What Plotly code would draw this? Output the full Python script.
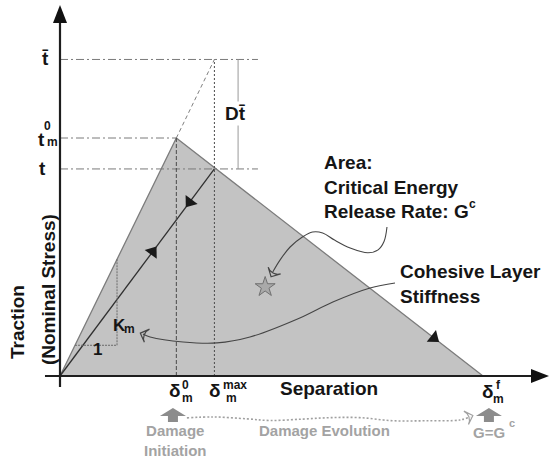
import math
import plotly.graph_objects as go

# ---- bilinear traction-separation law (normalised units) ----
separation_names = ["delta_m0", "delta_max", "delta_mf"]
separation_values = [0.275, 0.365, 1.0]
traction_names = ["t_m0", "t", "t_bar"]
traction_values = [1.0, 0.87, 1.33]

# run of the small "1 : K_m" slope triangle on the elastic branch
slope_run = [0.0355, 0.1348]

# guide curves for the call-out arrows
stiffness_curve_x = [0.792, 0.733, 0.645, 0.567, 0.449, 0.371, 0.291, 0.213, 0.196]
stiffness_curve_y = [0.391, 0.370, 0.311, 0.244, 0.164, 0.139, 0.143, 0.164, 0.176]
energy_curve_x = [0.773, 0.766, 0.752, 0.728, 0.686, 0.649, 0.621, 0.597, 0.573, 0.544, 0.520, 0.503]
energy_curve_y = [0.626, 0.565, 0.530, 0.518, 0.538, 0.571, 0.601, 0.605, 0.584, 0.542, 0.487, 0.437]
evolution_curve_x = [0.300, 0.362, 0.442, 0.496, 0.574, 0.638, 0.709, 0.787, 0.867, 0.945, 0.970]
evolution_curve_y = [-0.176, -0.172, -0.180, -0.187, -0.181, -0.175, -0.175, -0.188, -0.188, -0.185, -0.172]
star_point = [0.485, 0.374]

d0, dmax, df = separation_values
t0, t, tbar = traction_values
K = t0 / d0

W, H = 549, 461
X_RANGE = [-60 / 423, 489 / 423]
Y_RANGE = [-85 / 238, 376 / 238]
PX_PER_X = W / (X_RANGE[1] - X_RANGE[0])
PX_PER_Y = H / (Y_RANGE[1] - Y_RANGE[0])

FONT = "Liberation Sans, Arial, sans-serif"
BLACK = "#151515"
GREY_TXT = "#a3a3a3"

fig = go.Figure()

# damaged-zone area (critical energy release rate)
fig.add_trace(go.Scatter(x=[0, d0, df, 0], y=[0, t0, 0, 0], mode="lines",
                         fill="toself", fillcolor="#c3c3c3",
                         line=dict(width=0), hoverinfo="skip"))
# envelope of the law
fig.add_trace(go.Scatter(x=[0, d0, df], y=[0, t0, 0], mode="lines",
                         line=dict(color="#7c7c7c", width=1.3), hoverinfo="skip"))
# undamaged elastic extension up to t_bar
fig.add_trace(go.Scatter(x=[d0, dmax], y=[t0, tbar], mode="lines",
                         line=dict(color="#808080", width=1, dash="4px,3px"),
                         hoverinfo="skip"))
# unloading / reloading path
fig.add_trace(go.Scatter(x=[0, dmax], y=[0, t], mode="lines",
                         line=dict(color="#303030", width=1.3), hoverinfo="skip"))

# call-out curves
fig.add_trace(go.Scatter(x=stiffness_curve_x, y=stiffness_curve_y, mode="lines",
                         line=dict(color="#454545", width=1.1, shape="spline"),
                         hoverinfo="skip"))
fig.add_trace(go.Scatter(x=energy_curve_x, y=energy_curve_y, mode="lines",
                         line=dict(color="#454545", width=1.1, shape="spline"),
                         hoverinfo="skip"))
fig.add_trace(go.Scatter(x=evolution_curve_x, y=evolution_curve_y, mode="lines",
                         line=dict(color="#a0a0a0", width=1.6, shape="spline", dash="2px,2px"),
                         hoverinfo="skip"))
# star in the area
fig.add_trace(go.Scatter(x=[star_point[0]], y=[star_point[1]], mode="markers",
                         marker=dict(symbol="star", size=15, color="#a9a9a9",
                                     line=dict(color="#707070", width=1)),
                         hoverinfo="skip"))


def arrow_marker(p_from, p_to, symbol, size, color, line_width=0):
    """Arrowhead at p_to, rotated to point along p_from -> p_to on screen."""
    dx = (p_to[0] - p_from[0]) * PX_PER_X
    dy = (p_to[1] - p_from[1]) * PX_PER_Y
    angle = math.degrees(math.atan2(dx, dy))
    fig.add_trace(go.Scatter(
        x=[p_to[0]], y=[p_to[1]], mode="markers",
        marker=dict(symbol=symbol, size=size, color=color, angle=angle,
                    line=dict(color=color, width=line_width)),
        hoverinfo="skip"))


def along(p, q, f, back=0.03):
    a = (p[0] + (q[0] - p[0]) * (f - back), p[1] + (q[1] - p[1]) * (f - back))
    b = (p[0] + (q[0] - p[0]) * f, p[1] + (q[1] - p[1]) * f)
    return a, b


# direction arrows on the law
arrow_marker(*along((dmax, t), (0, 0), 0.16), "triangle-up", 13, "#1a1a1a")
arrow_marker(*along((0, 0), (dmax, t), 0.6), "triangle-up", 13, "#1a1a1a")
arrow_marker(*along((d0, t0), (df, 0), 0.84), "triangle-up", 13, "#1a1a1a")
# call-out arrow heads
arrow_marker((stiffness_curve_x[-2], stiffness_curve_y[-2]),
             (stiffness_curve_x[-1] - 0.006, stiffness_curve_y[-1] + 0.004),
             "arrow-wide-open", 10, "#454545", 1.2)
arrow_marker((energy_curve_x[-2], energy_curve_y[-2]),
             (energy_curve_x[-1] - 0.004, energy_curve_y[-1] - 0.02),
             "arrow-wide-open", 10, "#454545", 1.2)
arrow_marker((evolution_curve_x[-2], evolution_curve_y[-2]),
             (evolution_curve_x[-1] + 0.006, evolution_curve_y[-1] + 0.006),
             "arrow-wide-open", 10, "#a0a0a0", 1.2)

shapes = []
line_dashdot = dict(color="#7a7a7a", width=1, dash="8px,3px,2px,3px")
x_guide_end = 0.468
shapes.append(dict(type="line", x0=0, x1=x_guide_end, y0=tbar, y1=tbar, line=line_dashdot))
shapes.append(dict(type="line", x0=0, x1=d0, y0=t0, y1=t0, line=line_dashdot))
shapes.append(dict(type="line", x0=0, x1=x_guide_end, y0=t, y1=t, line=line_dashdot))
shapes.append(dict(type="line", x0=d0, x1=d0, y0=0, y1=t0,
                   line=dict(color="#4a4a4a", width=1, dash="4px,2px")))
shapes.append(dict(type="line", x0=dmax, x1=dmax, y0=0, y1=tbar,
                   line=dict(color="#4a4a4a", width=1, dash="2px,2px")))
# D t_bar dimension
x_dim = 0.421
shapes.append(dict(type="line", x0=x_dim, x1=x_dim, y0=t, y1=tbar,
                   line=dict(color="#9a9a9a", width=1)))
# slope triangle
shapes.append(dict(type="line", x0=slope_run[1], x1=slope_run[1],
                   y0=K * slope_run[0], y1=K * slope_run[1],
                   line=dict(color="#6a6a6a", width=1, dash="2px,1px")))
shapes.append(dict(type="line", x0=slope_run[0], x1=slope_run[1],
                   y0=K * slope_run[0], y1=K * slope_run[0],
                   line=dict(color="#6a6a6a", width=1, dash="2px,1px")))

# axes
x_lo, x_tip = -0.0355, 1.156
y_lo, y_tip = -0.046, 1.559
shapes.append(dict(type="line", x0=x_lo, x1=x_tip - 0.03, y0=0, y1=0,
                   line=dict(color="#1e1e1e", width=2.2)))
shapes.append(dict(type="line", x0=0, x1=0, y0=y_lo, y1=y_tip - 0.05,
                   line=dict(color="#1e1e1e", width=2.2)))
shapes.append(dict(type="path", xsizemode="pixel", ysizemode="pixel",
                   xanchor=x_tip, yanchor=0, path="M0,0 L-18,7 L-18,-7 Z",
                   fillcolor="#111", line=dict(width=0)))
shapes.append(dict(type="path", xsizemode="pixel", ysizemode="pixel",
                   xanchor=0, yanchor=y_tip, path="M0,0 L7,-18 L-7,-18 Z",
                   fillcolor="#111", line=dict(width=0)))
# block arrows for damage initiation / complete failure
block = "M0,0 L13,-8 L5,-8 L5,-14 L-5,-14 L-5,-8 L-13,-8 Z"
for bx in (0.267, 1.014):
    shapes.append(dict(type="path", xsizemode="pixel", ysizemode="pixel",
                       xanchor=bx, yanchor=-0.134, path=block,
                       fillcolor="#8c8c8c", line=dict(width=0)))

ann = []


def text(x, y, s, size=19, color=BLACK, xshift=0, yshift=0, **kw):
    ann.append(dict(x=x, y=y, text=s, showarrow=False, xshift=xshift, yshift=yshift,
                    font=dict(family=FONT, size=size, color=color, weight="bold"), **kw))


# labels
text(0.619, 0.794, "Area:<br>Critical Energy<br>Release Rate: G", xanchor="left", align="left")
text(0.975, 0.723, "c", size=12)
text(0.799, 0.387, "Cohesive Layer<br>Stiffness", xanchor="left", align="left")
text(0.515, -0.0525, "Separation", xanchor="left")
text(-0.0993, 0.227, "Traction", textangle=-90)
text(-0.0284, 0.365, "(Nominal Stress)", textangle=-90)
text(x_dim - 0.005, (t + tbar) / 2 + 0.005, "Dt\u0304", bgcolor="white")
text(0.1418, 0.214, "K", size=17)
text(0.1635, 0.197, "m", size=12)
text(0.0875, 0.113, "1", size=17)

# traction tick labels
text(0, tbar, "t\u0304", xshift=-15, yshift=1)
text(0, t0, "t", xshift=-19, yshift=-1)
text(0, t0, "0", size=12, xshift=-13, yshift=12)
text(0, t0, "m", size=12, xshift=-8, yshift=-4)
text(0, t, "t", xshift=-18)

# separation tick labels
text(d0, 0, "δ", xshift=-1, yshift=-14)
text(d0, 0, "0", size=12, xshift=9, yshift=-9)
text(d0, 0, "m", size=12, xshift=11, yshift=-22)
text(dmax, 0, "δ", xshift=1, yshift=-14)
text(dmax, 0, "max", size=12, xshift=21, yshift=-9)
text(dmax, 0, "m", size=12, xshift=17, yshift=-22)
text(df, 0, "δ", xshift=5, yshift=-15)
text(df, 0, "f", size=12, xshift=15, yshift=-9)
text(df, 0, "m", size=12, xshift=15, yshift=-23)

# damage stages
text(0.272, -0.269, "Damage<br>Initiation", size=15, color=GREY_TXT)
text(0.625, -0.227, "Damage Evolution", size=15, color=GREY_TXT)
text(1.015, -0.239, "G=G", size=15, color=GREY_TXT)
text(1.0567, -0.196, "c", size=11, color=GREY_TXT, xanchor="left")

fig.update_layout(
    width=W, height=H, margin=dict(l=0, r=0, t=0, b=0),
    paper_bgcolor="white", plot_bgcolor="white", showlegend=False,
    xaxis=dict(range=X_RANGE, visible=False, fixedrange=True),
    yaxis=dict(range=Y_RANGE, visible=False, fixedrange=True),
    shapes=shapes, annotations=ann,
)

fig.write_html("out.html", config={"displayModeBar": False})
